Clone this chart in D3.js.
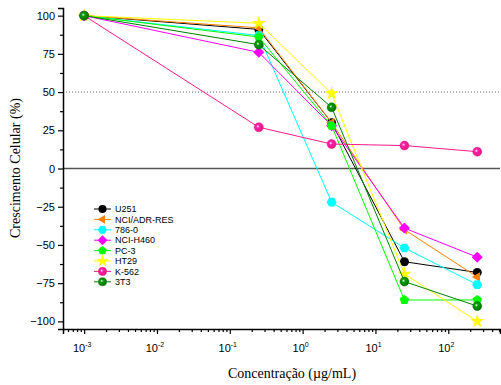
<!DOCTYPE html>
<html>
<head>
<meta charset="utf-8">
<script src="https://cdn.jsdelivr.net/npm/d3@7"></script>
<style>
  body { margin: 0; background: #fff; }
  svg { display: block; }
</style>
</head>
<body>
<div id="chart"></div>
<script>
"use strict";

/* ── Data ── */
const concentrations = [0.001, 0.25, 2.5, 25, 250];
const seriesNames = ["U251", "NCI/ADR-RES", "786-0", "NCI-H460", "PC-3", "HT29", "K-562", "3T3"];
const u251    = [100, 91, 30, -61, -68];
const nciAdr  = [100, 92, 30, -40, -71];
const c7860   = [100, 87, -22, -52, -76];
const nciH460 = [100, 76, 28, -39, -58];
const pc3     = [100, 86, 28, -86, -86];
const ht29    = [100, 95, 49, -69, -100];
const k562    = [100, 27, 16, 15, 11];
const t3t3    = [100, 81, 40, -74, -90];
const yTicks  = [-100, -75, -50, -25, 0, 25, 50, 75, 100];
const xExps   = [-3, -2, -1, 0, 1, 2];

const seriesValues = [u251, nciAdr, c7860, nciH460, pc3, ht29, k562, t3t3];
const colours = ["#000000", "#ff8000", "#00ffff", "#ff00ff", "#00ff00", "#ffff00", "#ff1a8c", "#007f00"];
const shapes  = ["circle", "triLeft", "hexagon", "diamond", "pentagon", "star", "sphere", "sphere"];

/* ── Dimensions ── */
const W = 501, H = 385;
const svg = d3.select("#chart").append("svg").attr("width", W).attr("height", H);

const x = d3.scaleLog().domain([Math.pow(10, -3.29), Math.pow(10, 2.71)]).range([63, 500]);
const y = d3.scaleLinear().domain([-105, 105]).range([329, 8]);

const defs = svg.append("defs");
colours.forEach((c, i) => {
  if (shapes[i] !== "sphere") return;
  const g = defs.append("radialGradient").attr("id", "sph" + i)
    .attr("cx", "40%").attr("cy", "40%").attr("r", "60%");
  g.append("stop").attr("offset", "0%").attr("stop-color", "#ffffff");
  g.append("stop").attr("offset", "30%").attr("stop-color", d3.color(c).brighter(0.6));
  g.append("stop").attr("offset", "100%").attr("stop-color", d3.color(c).darker(0.3));
});

/* ── Reference lines ── */
svg.append("line")
  .attr("x1", 63).attr("x2", 500).attr("y1", y(50)).attr("y2", y(50))
  .attr("stroke", "#666").attr("stroke-width", 1).attr("stroke-dasharray", "1,2");
svg.append("line")
  .attr("x1", 63).attr("x2", 500).attr("y1", y(0)).attr("y2", y(0))
  .attr("stroke", "#555").attr("stroke-width", 1.5);

/* ── Axes ── */
const yAxis = svg.append("g").attr("transform", "translate(63,0)")
  .call(d3.axisLeft(y).tickValues(yTicks).tickSize(5).tickPadding(3).tickFormat(d3.format("d")));
svg.append("g").attr("transform", "translate(63,0)")
  .call(d3.axisLeft(y).tickValues(d3.range(-87.5, 100, 25)).tickSize(3).tickFormat(""))
  .call(g => g.select(".domain").remove());
yAxis.selectAll("text").attr("font-family", "Liberation Sans, Arial, sans-serif")
  .attr("font-size", "11px").attr("fill", "#000");

const minorX = [];
for (let e = -4; e <= 2; e++) for (let m = 2; m <= 9; m++) {
  const v = m * Math.pow(10, e);
  if (v >= x.domain()[0] && v <= x.domain()[1]) minorX.push(v);
}
const xAxis = svg.append("g").attr("transform", "translate(0,329)")
  .call(d3.axisBottom(x).tickValues(xExps.map(e => Math.pow(10, e))).tickSize(5).tickFormat(""));
svg.append("g").attr("transform", "translate(0,329)")
  .call(d3.axisBottom(x).tickValues(minorX).tickSize(3).tickFormat(""))
  .call(g => g.select(".domain").remove());
[yAxis, xAxis].forEach(a => a.select(".domain").attr("stroke-width", 1.5));
svg.selectAll(".tick line").attr("stroke-width", 1.2);

xExps.forEach(e => {
  const t = svg.append("text")
    .attr("x", x(Math.pow(10, e)) - 2).attr("y", 352)
    .attr("text-anchor", "middle")
    .attr("font-family", "Liberation Sans, Arial, sans-serif").attr("font-size", "11px");
  t.append("tspan").text("10");
  t.append("tspan").attr("dy", -5).attr("font-size", "7px").text(e);
});

svg.append("text")
  .attr("transform", "translate(20,168) rotate(-90)")
  .attr("text-anchor", "middle")
  .attr("font-family", "Liberation Serif, Times New Roman, serif").attr("font-size", "14px")
  .text("Crescimento Celular (%)");
svg.append("text")
  .attr("x", 292).attr("y", 378)
  .attr("text-anchor", "middle")
  .attr("font-family", "Liberation Serif, Times New Roman, serif").attr("font-size", "14px")
  .text("Concentração (µg/mL)");

/* ── Marker shapes ── */
function polyPath(n, r, rot) {
  const pts = d3.range(n).map(k => {
    const a = rot + k * 2 * Math.PI / n;
    return [r * Math.cos(a), r * Math.sin(a)];
  });
  return "M" + pts.map(p => p.join(",")).join("L") + "Z";
}
function drawMarker(g, shape, i, px, py, s) {
  const c = colours[i];
  if (shape === "circle") {
    g.append("circle").attr("cx", px).attr("cy", py).attr("r", 4.5 * s).attr("fill", c);
  } else if (shape === "sphere") {
    g.append("circle").attr("cx", px).attr("cy", py).attr("r", 4.5 * s)
      .attr("fill", `url(#sph${i})`).attr("stroke", d3.color(c).darker(0.3)).attr("stroke-width", 0.5);
  } else {
    let d;
    if (shape === "triLeft") d = polyPath(3, 5.5 * s, Math.PI);
    else if (shape === "hexagon") d = polyPath(6, 5 * s, 0);
    else if (shape === "diamond") d = polyPath(4, 5.5 * s, -Math.PI / 2);
    else if (shape === "pentagon") d = polyPath(5, 5 * s, -Math.PI / 2);
    else d = d3.symbol(d3.symbolStar, 60 * s * s)();
    g.append("path").attr("d", d).attr("transform", `translate(${px},${py})`).attr("fill", c);
  }
}

/* ── Series ── */
const line = d3.line().x((d, k) => x(concentrations[k])).y(d => y(d));
seriesValues.forEach((vals, i) => {
  const g = svg.append("g");
  g.append("path").datum(vals).attr("d", line)
    .attr("fill", "none").attr("stroke", colours[i]).attr("stroke-width", 1);
  vals.forEach((v, k) => drawMarker(g, shapes[i], i, x(concentrations[k]), y(v), 1));
});

/* ── Legend ── */
const legend = svg.append("g");
seriesNames.forEach((name, i) => {
  const ly = 209 + i * 10.4;
  legend.append("line").attr("x1", 94).attr("x2", 111).attr("y1", ly).attr("y2", ly)
    .attr("stroke", colours[i]).attr("stroke-width", 1);
  drawMarker(legend, shapes[i], i, 102.5, ly, 0.9);
  legend.append("text").attr("x", 115).attr("y", ly + 3.2)
    .attr("font-family", "Liberation Sans, Arial, sans-serif").attr("font-size", "9px")
    .text(name);
});
</script>
</body>
</html>
